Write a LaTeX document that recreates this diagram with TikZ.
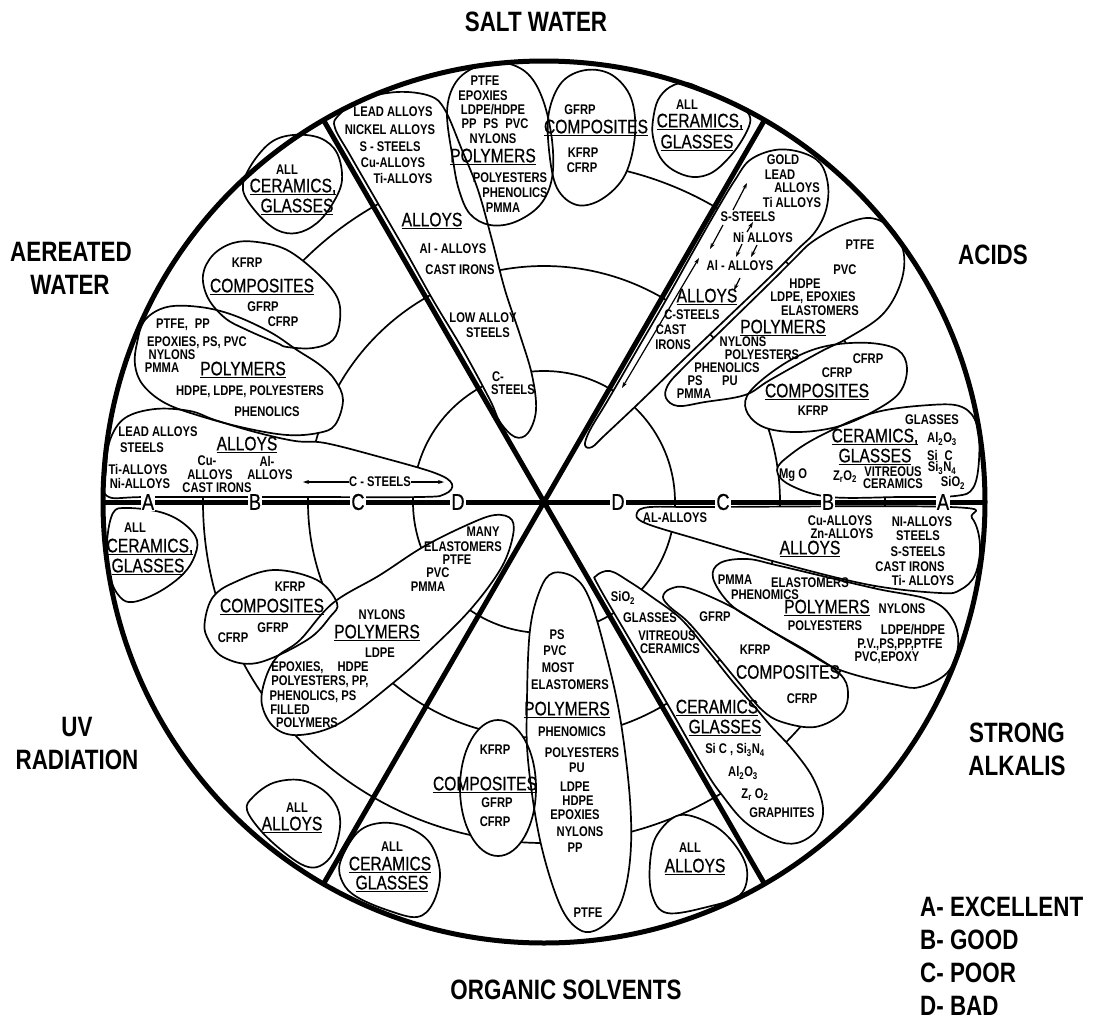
\documentclass[tikz,border=0pt]{standalone}
\usepackage{fontspec}
\usetikzlibrary{arrows.meta}
\newfontfamily\nar[FakeStretch=0.8]{Liberation Sans}
\newfontfamily\narm[FakeStretch=0.8,FakeBold=0.6]{Liberation Sans}
\newcommand\ul[1]{\sbox0{#1}\rlap{\rule[-3pt]{\wd0}{1.5pt}}\usebox0}
\newcommand\sub[1]{\textsubscript{#1}}
\tikzset{
 lab/.style={font=\nar\bfseries\fontsize{28}{30}\selectfont, inner sep=0},
 sm/.style={font=\nar\bfseries\fontsize{14}{14}\selectfont, inner sep=0},
 ct/.style={font=\narm\fontsize{19.5}{20}\selectfont, inner sep=0},
 ltr/.style={font=\narm\fontsize{23}{24}\selectfont, fill=white, inner sep=1pt},
 bub/.style={draw, line width=1.7pt, line join=round},
 ring/.style={line width=1.7pt},
 heavy/.style={line width=5pt},
 arr/.style={line width=1.2pt, -{Stealth[length=6pt,width=4pt]}},
 darr/.style={line width=1.2pt, {Stealth[length=6pt,width=4pt]}-{Stealth[length=6pt,width=4pt]}},
}
\def\bsA{plot[smooth cycle, tension=0.6] coordinates {(338,116) (360,100) (397,92) (430,96) (445,110) (462,150) (478,190) (492,240) (505,290) (520,335) (532,375) (536,410) (528,433) (515,437) (500,422) (490,400) (463,350) (433,300) (405,250) (376,200) (350,155) (335,128)}}
\def\bsP{plot[smooth cycle, tension=0.6] coordinates {(447,112) (456,82) (478,66) (505,63) (528,74) (543,100) (552,140) (552,178) (540,205) (515,222) (490,225) (470,214) (459,190) (453,160)}}
\def\bsC{plot[smooth cycle, tension=0.6] coordinates {(549,112) (562,82) (586,70) (612,75) (631,98) (635,135) (625,175) (602,199) (577,205) (557,188) (549,150)}}
\def\bsX{plot[smooth cycle, tension=0.6] coordinates {(653,120) (658,100) (670,87) (687,83) (710,93) (740,107) (750,117) (747,131) (733,153) (713,172) (693,177) (673,170) (660,157) (653,137)}}
\def\baA{plot[smooth cycle, tension=0.6] coordinates {(735,180) (750,160) (775,150) (800,152) (820,163) (828,185) (826,210) (815,232) (797,250) (770,277) (725,320) (680,363) (640,402) (605,435) (592,447) (585,445) (590,430) (608,400) (637,350) (666,300) (694,250) (718,208)}}
\def\baP{plot[smooth cycle, tension=0.6] coordinates {(772,281) (727,325) (683,368) (668,385) (666,398) (678,406) (705,402) (745,395) (770,380) (820,352) (848,338) (882,315) (900,285) (904,255) (893,230) (870,218) (840,226) (812,242) (795,258)}}
\def\baC{plot[smooth cycle, tension=0.6] coordinates {(747,396) (768,375) (800,355) (832,345) (870,343) (898,350) (907,368) (900,392) (876,410) (840,426) (800,432) (766,428) (748,414)}}
\def\baX{plot[smooth cycle, tension=0.6] coordinates {(777,470) (790,455) (820,436) (873,413) (930,405) (962,407) (977,425) (979,460) (973,488) (955,496) (900,497) (830,497) (790,485)}}
\def\blA{plot[smooth cycle, tension=0.6] coordinates {(637,513) (650,507) (700,507) (950,507) (972,518) (980,545) (975,575) (960,590) (940,593) (870,585) (780,563) (700,540) (645,523)}}
\def\blP{plot[smooth cycle, tension=0.6] coordinates {(713,578) (720,563) (747,559) (780,566) (873,588) (930,600) (953,620) (958,647) (947,673) (920,687) (897,685) (840,670) (800,648) (760,624) (730,604)}}
\def\blC{plot[smooth cycle, tension=0.6] coordinates {(663,597) (670,589) (688,588) (730,606) (770,630) (810,653) (840,674) (848,692) (842,713) (815,727) (782,722) (762,710) (740,684) (712,650) (688,622) (670,607)}}
\def\blX{plot[smooth cycle, tension=0.6] coordinates {(596,576) (610,571) (630,582) (652,597) (680,618) (705,647) (733,682) (754,706) (770,725) (793,750) (813,778) (823,808) (817,830) (797,843) (775,840) (745,822) (722,795) (705,770) (668,705) (630,640) (598,585)}}
\def\boL{plot[smooth cycle, tension=0.6] coordinates {(650,863) (657,835) (680,815) (713,825) (735,845) (747,870) (740,895) (707,907) (667,913) (652,895)}}
\def\boP{plot[smooth cycle, tension=0.6] coordinates {(553,573) (575,578) (590,600) (605,650) (620,717) (630,800) (630,860) (620,905) (600,928) (580,930) (560,905) (540,840) (528,760) (527,700) (530,630) (540,590)}}
\def\boC{(498,788) ellipse [x radius=38pt, y radius=68pt]}
\def\boX{plot[smooth cycle, tension=0.6] coordinates {(340,863) (357,833) (380,823) (407,827) (430,843) (440,873) (433,903) (417,917) (387,910) (357,897) (343,883)}}
\def\buX{plot[smooth cycle, tension=0.6] coordinates {(113,513) (127,508) (160,512) (183,523) (197,540) (193,560) (180,577) (157,593) (133,602) (120,597) (110,577) (107,543)}}
\def\buC{plot[smooth cycle, tension=0.6] coordinates {(205,620) (213,597) (233,583) (273,570) (317,580) (337,603) (330,617) (307,640) (257,663) (223,657) (207,637)}}
\def\buP{plot[smooth cycle, tension=0.6] coordinates {(423,547) (467,525) (495,515) (512,520) (512,540) (500,570) (470,610) (430,650) (393,683) (340,723) (300,735) (275,728) (262,705) (265,680) (277,657) (300,640) (333,603) (380,575)}}
\def\buL{plot[smooth cycle, tension=0.6] coordinates {(247,810) (253,797) (273,783) (300,780) (323,790) (337,807) (340,827) (333,853) (320,866) (305,866) (285,853) (262,832)}}
\def\bwX{plot[smooth cycle, tension=0.6] coordinates {(243,190) (250,167) (270,143) (293,135) (320,138) (337,153) (342,180) (333,203) (317,223) (297,233) (277,230) (257,213)}}
\def\bwC{plot[smooth cycle, tension=0.6] coordinates {(203,275) (213,255) (233,243) (257,242) (287,250) (317,273) (337,297) (340,320) (333,340) (313,348) (287,347) (277,343) (247,330) (225,318) (208,298)}}
\def\bwP{plot[smooth cycle, tension=0.6] coordinates {(137,343) (145,320) (167,307) (200,307) (233,315) (270,332) (297,350) (320,365) (335,380) (343,400) (335,425) (318,433) (287,435) (245,428) (200,416) (165,403) (143,385) (135,365)}}
\def\bwA{plot[smooth cycle, tension=0.6] coordinates {(107,496) (106,470) (110,440) (125,418) (155,409) (190,411) (215,420) (255,432) (295,441) (325,443) (380,457) (435,473) (452,484) (445,494) (420,497) (300,497) (150,497)}}
\begin{document}
\begin{tikzpicture}[x=1pt,y=-1pt]
\useasboundingbox (0,0) rectangle (1096,1023);
\fill[white] (0,0) rectangle (1096,1023);
\coordinate (c) at (544,502);
% rings
\draw[ring] (c) circle[radius=131pt];
\draw[ring] (c) circle[radius=236pt];
\draw[ring] (c) circle[radius=341pt];
% bubble fills, then outlines
\foreach \b in {\bsA,\bsP,\bsC,\bsX,\baA,\baP,\baC,\baX,\blA,\blP,\blC,\blX,\boL,\boP,\boC,\boX,\buX,\buC,\buP,\buL,\bwX,\bwC,\bwP,\bwA}{\fill[white] \b;}
\foreach \b in {\bsA,\bsP,\bsC,\bsX,\baA,\baP,\baC,\baX,\blA,\blP,\blC,\blX,\boL,\boP,\boC,\boX,\buX,\buC,\buP,\buL,\bwX,\bwC,\bwP,\bwA}{\draw[bub] \b;}
% spokes and outer circle
\coordinate (p60) at (764.5,120.1);
\coordinate (p120) at (323.5,120.1);
\coordinate (p240) at (323.5,883.9);
\coordinate (p300) at (764.5,883.9);
\coordinate (p0) at (985,502);
\coordinate (p180) at (103,502);
\draw[heavy] (p120) -- (p300);
\draw[heavy] (p60) -- (p240);
\draw[heavy] (p180) -- (p0);
\draw[heavy] (c) circle[radius=441pt];
% letters on the axis
\node[ltr] (lA1) at (148,502) {A};
\node[ltr] (lB1) at (255,502) {B};
\node[ltr] (lC1) at (358,502) {C};
\node[ltr] (lD1) at (458,502) {D};
\node[ltr] (lD2) at (618,502) {D};
\node[ltr] (lC2) at (723,502) {C};
\node[ltr] (lB2) at (828,502) {B};
\node[ltr] (lA2) at (943,502) {A};
% outer labels
\node[lab] (tSW) at (536,22) {SALT WATER};
\node[lab] (tAC) at (993,255) {ACIDS};
\node[lab] (tAW1) at (71,252) {AEREATED};
\node[lab] (tAW2) at (70,285) {WATER};
\node[lab] (tUV1) at (77,727) {UV};
\node[lab] (tUV2) at (77,760) {RADIATION};
\node[lab] (tSA1) at (1017,733) {STRONG};
\node[lab] (tSA2) at (1017,766) {ALKALIS};
\node[lab] (tOS) at (566,990) {ORGANIC SOLVENTS};
\node[lab, anchor=west] (kA) at (920,907) {A- EXCELLENT};
\node[lab, anchor=west] (kB) at (920,940) {B- GOOD};
\node[lab, anchor=west] (kC) at (920,973) {C- POOR};
\node[lab, anchor=west] (kD) at (920,1006) {D- BAD};
% SALT WATER
\node[sm] (sw1) at (393,112) {LEAD ALLOYS};
\node[sm] (sw2) at (390,130) {NICKEL ALLOYS};
\node[sm] (sw3) at (390,147) {S - STEELS};
\node[sm] (sw4) at (393,163) {Cu-ALLOYS};
\node[sm] (sw5) at (403,178) {Ti-ALLOYS};
\node[ct] (sw6) at (432,221) {\ul{ALLOYS}};
\node[sm] (sw7) at (453,248) {Al - ALLOYS};
\node[sm] (sw8) at (460,270) {CAST IRONS};
\node[sm] (sw9) at (483,318) {LOW ALLOY};
\node[sm] (sw10) at (488,333) {STEELS};
\node[sm] (sw11) at (498,377) {C-};
\node[sm] (sw12) at (513,390) {STEELS};
\node[sm] (sw13) at (485,81) {PTFE};
\node[sm] (sw14) at (483,96) {EPOXIES};
\node[sm] (sw15) at (493,110) {LDPE/HDPE};
\node[sm] (sw16) at (495,124) {PP\enspace PS\enspace PVC};
\node[sm] (sw17) at (493,139) {NYLONS};
\node[ct] (sw18) at (493,157) {\ul{POLYMERS}};
\node[sm] (sw19) at (510,178) {POLYESTERS};
\node[sm] (sw20) at (515,193) {PHENOLICS};
\node[sm] (sw21) at (503,208) {PMMA};
\node[sm] (sw22) at (580,110) {GFRP};
\node[ct] (sw23) at (596,128) {\ul{COMPOSITES}};
\node[sm] (sw24) at (583,153) {KFRP};
\node[sm] (sw25) at (582,168) {CFRP};
\node[sm] (sw26) at (687,105) {ALL};
\node[ct] (sw27) at (700,122) {\ul{CERAMICS,}};
\node[ct] (sw28) at (697,143) {\ul{GLASSES}};
% ACIDS
\node[sm] (ac1) at (783,160) {GOLD};
\node[sm] (ac2) at (780,175) {LEAD};
\node[sm] (ac3) at (797,188) {ALLOYS};
\node[sm] (ac4) at (792,202) {Ti ALLOYS};
\node[sm] (ac5) at (748,217) {S-STEELS};
\node[sm] (ac6) at (763,237) {Ni ALLOYS};
\node[sm] (ac7) at (740,265) {Al - ALLOYS};
\node[ct] (ac8) at (707,297) {\ul{ALLOYS}};
\node[sm] (ac9) at (692,315) {C-STEELS};
\node[sm] (ac10) at (671,330) {CAST};
\node[sm] (ac11) at (673,345) {IRONS};
\node[sm] (ac12) at (860,245) {PTFE};
\node[sm] (ac13) at (845,270) {PVC};
\node[sm] (ac14) at (805,284) {HDPE};
\node[sm] (ac15) at (813,298) {LDPE, EPOXIES};
\node[sm] (ac16) at (820,311) {ELASTOMERS};
\node[ct] (ac17) at (783,328) {\ul{POLYMERS}};
\node[sm] (ac18) at (743,342) {NYLONS};
\node[sm] (ac19) at (762,355) {POLYESTERS};
\node[sm] (ac20) at (727,368) {PHENOLICS};
\node[sm] (ac21) at (695,381) {PS};
\node[sm] (ac22) at (730,381) {PU};
\node[sm] (ac23) at (694,394) {PMMA};
\node[sm] (ac24) at (868,359) {CFRP};
\node[sm] (ac25) at (837,373) {CFRP};
\node[ct] (ac26) at (817,392) {\ul{COMPOSITES}};
\node[sm] (ac27) at (813,411) {KFRP};
\node[sm] (ac28) at (932,420) {GLASSES};
\node[ct] (ac29) at (875,437) {\ul{CERAMICS,}};
\node[sm] (ac30) at (942,439) {Al\sub{2}O\sub{3}};
\node[ct] (ac31) at (875,457) {\ul{GLASSES}};
\node[sm] (ac32) at (940,455) {Si\enspace C};
\node[sm] (ac33) at (942,468) {Si\sub{3}N\sub{4}};
\node[sm] (ac34) at (793,475) {Mg O};
\node[sm] (ac35) at (845,477) {Z\sub{r}O\sub{2}};
\node[sm] (ac36) at (893,472) {VITREOUS};
\node[sm] (ac37) at (893,484) {CERAMICS};
\node[sm] (ac38) at (953,483) {SiO\sub{2}};
\coordinate (a1s) at (733,210); \coordinate (a1e) at (747,183);
\coordinate (a2s) at (723,225); \coordinate (a2e) at (710,249);
\coordinate (a3s) at (747,232); \coordinate (a3e) at (753,222);
\coordinate (a4s) at (742,244); \coordinate (a4e) at (736,257);
\coordinate (a5s) at (757,245); \coordinate (a5e) at (751,257);
\coordinate (a6s) at (740,278); \coordinate (a6e) at (734,290);
\coordinate (a7s) at (699,258); \coordinate (a7e) at (622,388);
\draw[arr] (a1s) -- (a1e);
\draw[arr] (a2s) -- (a2e);
\draw[arr] (a3s) -- (a3e);
\draw[arr] (a4s) -- (a4e);
\draw[arr] (a5s) -- (a5e);
\draw[arr] (a6s) -- (a6e);
\draw[darr] (a7s) -- (a7e);
% STRONG ALKALIS
\node[sm] (al1) at (675,518) {AL-ALLOYS};
\node[sm] (al2) at (840,521) {Cu-ALLOYS};
\node[sm] (al3) at (842,534) {Zn-ALLOYS};
\node[sm] (al4) at (922,522) {NI-ALLOYS};
\node[sm] (al5) at (918,536) {STEELS};
\node[ct] (al6) at (810,549) {\ul{ALLOYS}};
\node[sm] (al7) at (918,552) {S-STEELS};
\node[sm] (al8) at (910,567) {CAST IRONS};
\node[sm] (al9) at (923,580) {Ti- ALLOYS};
\node[sm] (al10) at (735,580) {PMMA};
\node[sm] (al11) at (810,583) {ELASTOMERS};
\node[sm] (al12) at (765,595) {PHENOMICS};
\node[ct] (al13) at (827,608) {\ul{POLYMERS}};
\node[sm] (al14) at (902,609) {NYLONS};
\node[sm] (al15) at (825,626) {POLYESTERS};
\node[sm] (al16) at (913,630) {LDPE/HDPE};
\node[sm] (al17) at (900,645) {P.V.,PS,PP,PTFE};
\node[sm] (al18) at (887,658) {PVC,EPOXY};
\node[sm] (al19) at (715,617) {GFRP};
\node[sm] (al20) at (755,650) {KFRP};
\node[ct] (al21) at (788,672) {COMPOSITES};
\node[sm] (al22) at (802,699) {CFRP};
\node[sm] (al23) at (623,598) {SiO\sub{2}};
\node[sm] (al24) at (650,618) {GLASSES};
\node[sm] (al25) at (667,636) {VITREOUS};
\node[sm] (al26) at (670,649) {CERAMICS};
\node[ct] (al27) at (717,708) {\ul{CERAMICS}};
\node[ct] (al28) at (725,728) {\ul{GLASSES}};
\node[sm] (al29) at (735,750) {Si C , Si\sub{3}N\sub{4}};
\node[sm] (al30) at (743,773) {Al\sub{2}O\sub{3}};
\node[sm] (al31) at (755,795) {Z\sub{r} O\sub{2}};
\node[sm] (al32) at (782,813) {GRAPHITES};
% ORGANIC SOLVENTS
\node[sm] (og1) at (557,635) {PS};
\node[sm] (og2) at (555,651) {PVC};
\node[sm] (og3) at (558,668) {MOST};
\node[sm] (og4) at (570,685) {ELASTOMERS};
\node[ct] (og5) at (567,710) {\ul{POLYMERS}};
\node[sm] (og6) at (572,732) {PHENOMICS};
\node[sm] (og7) at (582,753) {POLYESTERS};
\node[sm] (og8) at (577,768) {PU};
\node[sm] (og9) at (575,787) {LDPE};
\node[sm] (og10) at (578,801) {HDPE};
\node[sm] (og11) at (575,815) {EPOXIES};
\node[sm] (og12) at (580,832) {NYLONS};
\node[sm] (og13) at (575,848) {PP};
\node[sm] (og14) at (588,913) {PTFE};
\node[sm] (og15) at (495,750) {KFRP};
\node[ct] (og16) at (485,785) {\ul{COMPOSITES}};
\node[sm] (og17) at (497,803) {GFRP};
\node[sm] (og18) at (495,822) {CFRP};
\node[sm] (og19) at (392,847) {ALL};
\node[ct] (og20) at (390,865) {\ul{CERAMICS}};
\node[ct] (og21) at (392,884) {\ul{GLASSES}};
\node[sm] (og22) at (690,848) {ALL};
\node[ct] (og23) at (695,867) {\ul{ALLOYS}};
% UV RADIATION
\node[sm] (uv1) at (135,528) {ALL};
\node[ct] (uv2) at (150,547) {\ul{CERAMICS,}};
\node[ct] (uv3) at (148,567) {\ul{GLASSES}};
\node[sm] (uv4) at (290,587) {KFRP};
\node[ct] (uv5) at (272,607) {\ul{COMPOSITES}};
\node[sm] (uv6) at (273,628) {GFRP};
\node[sm] (uv7) at (233,638) {CFRP};
\node[sm] (uv8) at (483,532) {MANY};
\node[sm] (uv9) at (463,547) {ELASTOMERS};
\node[sm] (uv10) at (457,560) {PTFE};
\node[sm] (uv11) at (438,573) {PVC};
\node[sm] (uv12) at (428,587) {PMMA};
\node[sm] (uv13) at (382,615) {NYLONS};
\node[ct] (uv14) at (377,633) {\ul{POLYMERS}};
\node[sm] (uv15) at (380,653) {LDPE};
\node[sm] (uv16) at (320,668) {EPOXIES,\quad HDPE};
\node[sm] (uv17) at (320,682) {POLYESTERS, PP,};
\node[sm] (uv18) at (313,697) {PHENOLICS, PS};
\node[sm] (uv19) at (290,710) {FILLED};
\node[sm] (uv20) at (307,723) {POLYMERS};
\node[sm] (uv21) at (297,808) {ALL};
\node[ct] (uv22) at (292,825) {\ul{ALLOYS}};
% AEREATED WATER
\node[sm] (aw1) at (287,170) {ALL};
\node[ct] (aw2) at (293,187) {\ul{CERAMICS,}};
\node[ct] (aw3) at (297,207) {\ul{GLASSES}};
\node[sm] (aw4) at (247,263) {KFRP};
\node[ct] (aw5) at (262,287) {\ul{COMPOSITES}};
\node[sm] (aw6) at (263,307) {GFRP};
\node[sm] (aw7) at (283,322) {CFRP};
\node[sm] (aw8) at (183,325) {PTFE,\enspace PP};
\node[sm] (aw9) at (197,343) {EPOXIES, PS, PVC};
\node[sm] (aw10) at (172,355) {NYLONS};
\node[sm] (aw11) at (162,368) {PMMA};
\node[ct] (aw12) at (243,370) {\ul{POLYMERS}};
\node[sm] (aw13) at (250,392) {HDPE, LDPE, POLYESTERS};
\node[sm] (aw14) at (267,412) {PHENOLICS};
\node[sm] (aw15) at (158,432) {LEAD ALLOYS};
\node[sm] (aw16) at (142,448) {STEELS};
\node[sm] (aw17) at (138,469) {Ti-ALLOYS};
\node[sm] (aw18) at (140,483) {Ni-ALLOYS};
\node[ct] (aw19) at (247,445) {\ul{ALLOYS}};
\node[sm] (aw20) at (207,461) {Cu-};
\node[sm] (aw21) at (210,475) {ALLOYS};
\node[sm] (aw22) at (217,488) {CAST IRONS};
\node[sm] (aw23) at (267,461) {Al-};
\node[sm] (aw24) at (270,475) {ALLOYS};
\node[sm] (aw25) at (380,482) {C - STEELS};
\coordinate (cl) at (303,482);
\coordinate (cr) at (444,482);
\draw[arr] (aw25.west) -- (cl);
\draw[arr] (aw25.east) -- (cr);
\end{tikzpicture}
\end{document}
